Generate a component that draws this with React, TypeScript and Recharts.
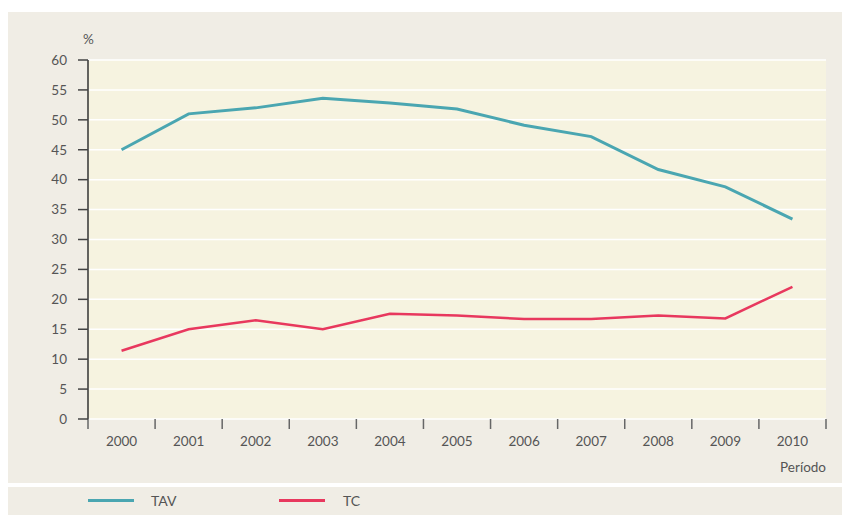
import React from 'react';
import { LineChart, Line, XAxis, YAxis, CartesianGrid } from 'recharts';

const years = [2000, 2001, 2002, 2003, 2004, 2005, 2006, 2007, 2008, 2009, 2010];
const tav = [45.0, 51.0, 52.0, 53.6, 52.8, 51.8, 49.1, 47.2, 41.7, 38.8, 33.4];
const tc = [11.4, 15.0, 16.5, 15.0, 17.6, 17.3, 16.7, 16.7, 17.3, 16.8, 22.1];
const yTicks = [0, 5, 10, 15, 20, 25, 30, 35, 40, 45, 50, 55, 60];
const boundaryTicks = [1999.5, 2000.5, 2001.5, 2002.5, 2003.5, 2004.5, 2005.5, 2006.5, 2007.5, 2008.5, 2009.5, 2010.5];

const data = years.map((y, i) => ({ year: y, TAV: tav[i], TC: tc[i] }));

const FONT = 'Lato, "Open Sans", sans-serif';
const TEXT = '#555';
const TAV_COLOR = '#4aa6b1';
const TC_COLOR = '#e8385e';
const PANEL = '#f0ede5';

const EmptyTick = () => <g />;

export default function App() {
  return (
    <div style={{ position: 'relative', width: 842, height: 507, fontFamily: FONT }}>
      <div style={{ position: 'absolute', left: 0, top: 4, width: 842, height: 471, background: PANEL }}>
        <LineChart width={842} height={471} data={data} margin={{ top: 48, right: 24, left: 0, bottom: 22 }}>
          <CartesianGrid vertical={false} stroke="#ffffff" strokeWidth={1.5} fill="#f6f3e0" />
          <XAxis
            xAxisId={0}
            dataKey="year"
            type="number"
            domain={[1999.5, 2010.5]}
            ticks={boundaryTicks}
            tick={EmptyTick}
            tickSize={10}
            tickLine={{ stroke: '#666', strokeWidth: 1.5 }}
            axisLine={false}
            height={10}
            interval={0}
          />
          <XAxis
            xAxisId="labels"
            dataKey="year"
            type="number"
            domain={[1999.5, 2010.5]}
            ticks={years}
            interval={0}
            tickLine={false}
            axisLine={false}
            tick={{ fill: TEXT, fontSize: 13.5, fontFamily: FONT }}
            tickMargin={1}
            height={32}
          />
          <YAxis
            domain={[0, 60]}
            ticks={yTicks}
            width={80}
            axisLine={{ stroke: '#333', strokeWidth: 1.5 }}
            tickLine={{ stroke: '#444', strokeWidth: 1.5 }}
            tickSize={10}
            tickMargin={11}
            tick={{ fill: TEXT, fontSize: 13.5, fontFamily: FONT }}
          />
          <Line type="linear" dataKey="TAV" stroke={TAV_COLOR} strokeWidth={3} dot={false} isAnimationActive={false} />
          <Line type="linear" dataKey="TC" stroke={TC_COLOR} strokeWidth={2.5} dot={false} isAnimationActive={false} />
        </LineChart>
        <span style={{ position: 'absolute', left: 75, top: 19, fontSize: 13.5, color: TEXT }}>%</span>
        <span style={{ position: 'absolute', right: 24, top: 447, fontSize: 13.5, color: TEXT }}>Período</span>
      </div>
      <div style={{ position: 'absolute', left: 0, top: 479, width: 842, height: 28, background: PANEL }}>
        <div style={{ position: 'absolute', left: 80, top: 12, width: 46, height: 3, background: TAV_COLOR }} />
        <span style={{ position: 'absolute', left: 143, top: 5, fontSize: 14, color: TEXT }}>TAV</span>
        <div style={{ position: 'absolute', left: 271, top: 12, width: 46, height: 3, background: TC_COLOR }} />
        <span style={{ position: 'absolute', left: 335, top: 5, fontSize: 14, color: TEXT }}>TC</span>
      </div>
    </div>
  );
}
